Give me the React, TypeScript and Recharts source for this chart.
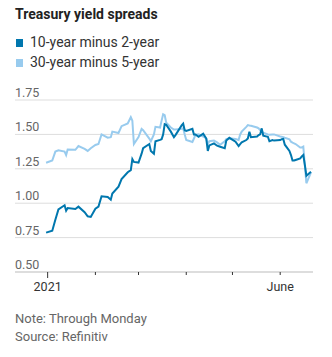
import { CartesianGrid, Line, LineChart, XAxis, YAxis } from 'recharts';

// day of year 2021 (Jan 1 = 0), trading days
const days = [
  -1, 3, 5, 7, 11, 12, 13, 18, 20, 24, 26, 28, 31, 33, 35, 39, 41, 42, 46, 48,
  52, 54, 55, 56, 59, 61, 62, 66, 67, 69, 70, 73, 74, 75, 76, 77, 80, 82, 83, 87,
  88, 89, 90, 94, 95, 96, 98, 101, 103, 104, 105, 108, 110, 112, 115, 116, 118, 122, 124, 125,
  126, 129, 130, 131, 132, 136, 137, 138, 139, 140, 143, 144, 146, 147, 151, 152, 153, 154, 157, 158,
  159, 160, 161, 164, 165, 166, 167, 168, 171,
];

const tenMinusTwo = [
  0.786, 0.8, 0.88, 0.955, 0.985, 0.945, 0.965, 0.958, 0.975, 0.935, 0.905, 0.9, 0.96, 0.975, 1.05, 1.045, 1.025, 1.07, 1.12, 1.175,
  1.225, 1.24, 1.32, 1.3, 1.295, 1.36, 1.4, 1.43, 1.38, 1.36, 1.45, 1.46, 1.465, 1.5, 1.575, 1.57, 1.52, 1.48, 1.495, 1.565,
  1.578, 1.53, 1.525, 1.54, 1.5, 1.5, 1.483, 1.505, 1.47, 1.38, 1.42, 1.435, 1.418, 1.41, 1.4, 1.455, 1.475, 1.447, 1.415, 1.43,
  1.442, 1.459, 1.47, 1.52, 1.48, 1.485, 1.495, 1.5, 1.544, 1.49, 1.483, 1.45, 1.459, 1.455, 1.459, 1.465, 1.467, 1.425, 1.38, 1.35,
  1.31, 1.31, 1.314, 1.326, 1.34, 1.35, 1.278, 1.2, 1.229,
];

const thirtyMinusFive = [
  1.294, 1.31, 1.375, 1.385, 1.375, 1.35, 1.39, 1.388, 1.415, 1.395, 1.38, 1.399, 1.423, 1.43, 1.5, 1.476, 1.48, 1.52, 1.51, 1.56,
  1.58, 1.625, 1.6, 1.43, 1.48, 1.54, 1.53, 1.47, 1.45, 1.5, 1.555, 1.55, 1.6, 1.646, 1.64, 1.585, 1.55, 1.535, 1.535, 1.54,
  1.545, 1.5, 1.46, 1.445, 1.47, 1.496, 1.5, 1.485, 1.47, 1.43, 1.45, 1.455, 1.442, 1.425, 1.45, 1.465, 1.472, 1.467, 1.46, 1.5,
  1.52, 1.555, 1.568, 1.565, 1.563, 1.55, 1.544, 1.53, 1.52, 1.512, 1.5, 1.497, 1.5, 1.5, 1.485, 1.483, 1.48, 1.476, 1.465, 1.447,
  1.44, 1.435, 1.43, 1.405, 1.405, 1.411, 1.278, 1.145, 1.225,
];

const yTicks = [0.5, 0.75, 1, 1.25, 1.5, 1.75];
const xTicks = [0, 31, 59, 90, 120, 151];
const xLabels: Record<number, string> = { 0: '2021', 151: 'June' };

const data = days.map((d, i) => ({ day: d, a: tenMinusTwo[i], b: thirtyMinusFive[i] }));

const DARK = '#0077ae';
const LIGHT = '#98cbee';
const FONT = 'Roboto, "Noto Sans", sans-serif';

function YTick({ y, payload }: any) {
  return (
    <text x={15} y={y - 3} fill="#666" fontSize={12.5} fontFamily={FONT}>
      {Number(payload.value).toFixed(2)}
    </text>
  );
}

function XTick({ x, payload }: any) {
  const label = xLabels[payload.value] ?? '';
  return (
    <g>
      <line x1={x} x2={x} y1={272} y2={payload.value === 0 ? 278 : 275} stroke="#333" strokeWidth={1} />
      <text x={x} y={291} textAnchor="middle" fill="#333" fontSize={12.5} fontFamily={FONT}>
        {label}
      </text>
    </g>
  );
}

export default function App() {
  return (
    <div style={{ position: 'absolute', left: 0, top: 0, width: 332, height: 357, background: '#fff', fontFamily: FONT }}>
      <div style={{ position: 'absolute', left: 15, top: 5, fontSize: 14, lineHeight: '18px', fontWeight: 700, color: '#222' }}>
        Treasury yield spreads
      </div>
      {[
        { label: '10-year minus 2-year', color: DARK, top: 33 },
        { label: '30-year minus 5-year', color: LIGHT, top: 53 },
      ].map((item) => (
        <div key={item.label} style={{ position: 'absolute', left: 16, top: item.top, fontSize: 14, lineHeight: '18px', color: '#333', whiteSpace: 'nowrap' }}>
          <span style={{ display: 'inline-block', width: 7, height: 8, background: item.color, marginRight: 7 }} />
          {item.label}
        </div>
      ))}
      <LineChart
        width={332}
        height={357}
        data={data}
        margin={{ top: 100, right: 19, bottom: 55, left: 14 }}
        style={{ position: 'absolute', left: 0, top: 0 }}
      >
        <CartesianGrid vertical={false} stroke="#ddd" />
        <XAxis
          dataKey="day"
          type="number"
          domain={[-21.2, 172.3]}
          ticks={xTicks}
          tick={<XTick />}
          tickLine={false}
          axisLine={{ stroke: '#ccc' }}
          height={30}
          interval={0}
        />
        <YAxis
          type="number"
          domain={[0.5, 1.75]}
          ticks={yTicks}
          width={1}
          tick={<YTick />}
          tickLine={false}
          axisLine={false}
          interval={0}
        />
        <Line type="linear" dataKey="b" stroke={LIGHT} strokeWidth={2} dot={false} isAnimationActive={false} />
        <Line type="linear" dataKey="a" stroke={DARK} strokeWidth={2} dot={false} isAnimationActive={false} />
      </LineChart>
      <div style={{ position: 'absolute', left: 15, top: 310, fontSize: 13, lineHeight: '18px', color: '#666' }}>
        Note: Through Monday
        <br />
        Source: Refinitiv
      </div>
    </div>
  );
}
